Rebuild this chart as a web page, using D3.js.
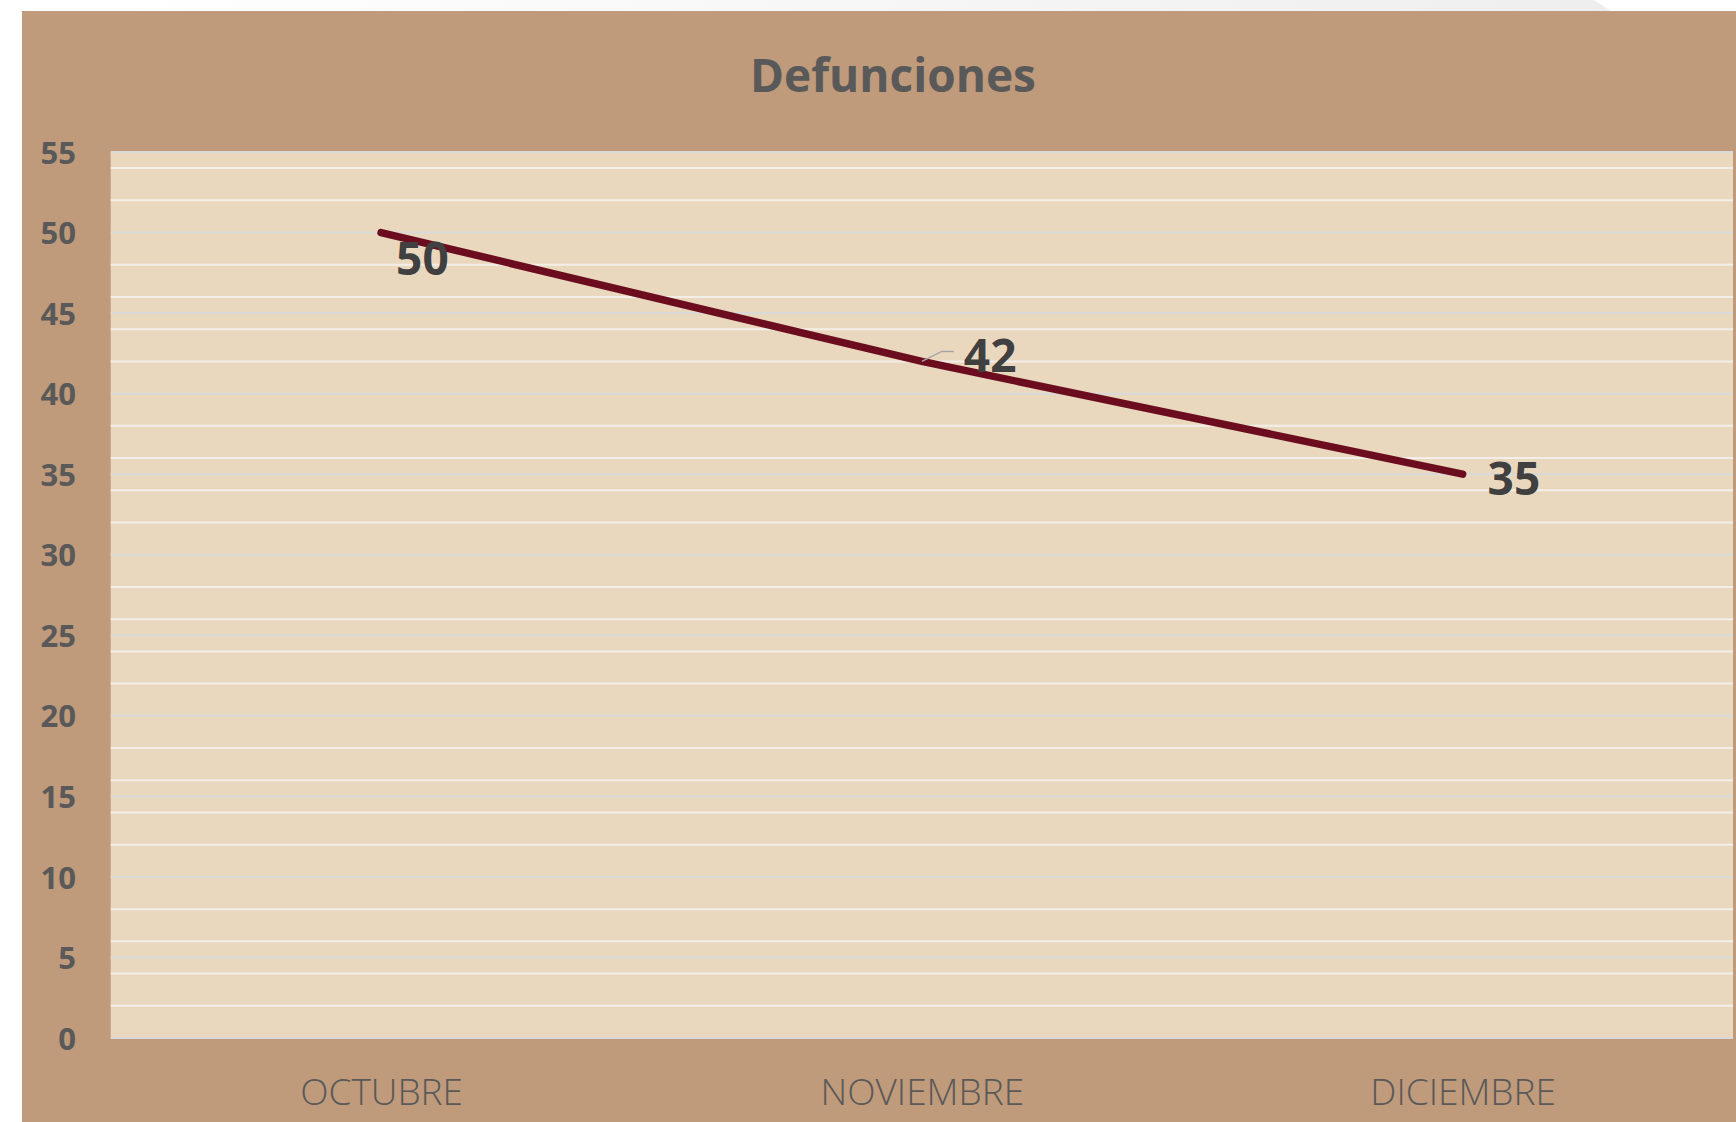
<!DOCTYPE html>
<html>
<head>
<meta charset="utf-8">
<script src="https://cdn.jsdelivr.net/npm/d3@7"></script>
<style>
  html, body { margin: 0; padding: 0; background: #ffffff; }
  svg { display: block; }
</style>
</head>
<body>
<div id="grafico"></div>
<script>
//----------------------------------------------------------------
// Datos
//----------------------------------------------------------------
var titulo = "Defunciones";
var meses = ["OCTUBRE", "NOVIEMBRE", "DICIEMBRE"];
var defunciones = [50, 42, 35];
var ticksY = [0, 5, 10, 15, 20, 25, 30, 35, 40, 45, 50, 55];
var ticksMenores = d3.range(0, 55, 2);

//----------------------------------------------------------------
// Dimensiones
//----------------------------------------------------------------
var largeurSvg = 1736, hauteurSvg = 1122;
var cadre = {x: 22, y: 11};
var zone = {gauche: 110.7, droite: 1733, haut: 152, bas: 1038};

// couleurs
var c = {fond: "#bf9a7b", zone: "#ead8be", grille: "#d9d9d9", mineure: "#f3eee8",
         ligne: "#6b0d1e", texte: "#595959", etiquette: "#404040"};

var svg = d3.select("#grafico")
    .append("svg")
    .attr("width", largeurSvg)
    .attr("height", hauteurSvg);

// bande grise en haut
var defs = svg.append("defs");
var grad = defs.append("linearGradient").attr("id", "haut");
grad.append("stop").attr("offset", "0%").attr("stop-color", "#ffffff");
grad.append("stop").attr("offset", "100%").attr("stop-color", "#eeeeee");
svg.append("path")
    .attr("d", "M110,0 L1594,0 L1611,11 L110,11 Z")
    .attr("fill", "url(#haut)");

// fond du graphique
svg.append("rect")
    .attr("x", cadre.x).attr("y", cadre.y)
    .attr("width", largeurSvg - cadre.x).attr("height", hauteurSvg - cadre.y)
    .attr("fill", c.fond);

svg.append("rect")
    .attr("x", zone.gauche).attr("y", zone.haut)
    .attr("width", zone.droite - zone.gauche).attr("height", zone.bas - zone.haut)
    .attr("fill", c.zone);

//----------------------------------------------------------------
// Echelles
//----------------------------------------------------------------
var x = d3.scalePoint()
    .domain(meses)
    .range([zone.gauche, zone.droite])
    .padding(0.5);

var y = d3.scaleLinear()
    .domain([0, 55])
    .range([zone.bas, zone.haut]);

// grille mineure
svg.append("g")
    .selectAll("line")
    .data(ticksMenores.filter(function(d) { return d % 5 !== 0; }))
    .enter().append("line")
        .attr("x1", zone.gauche).attr("x2", zone.droite)
        .attr("y1", function(d) { return y(d); })
        .attr("y2", function(d) { return y(d); })
        .attr("stroke", c.mineure)
        .attr("stroke-width", 2);

// grille principale
svg.append("g")
    .selectAll("line")
    .data(ticksY)
    .enter().append("line")
        .attr("x1", zone.gauche).attr("x2", zone.droite)
        .attr("y1", function(d) { return y(d); })
        .attr("y2", function(d) { return y(d); })
        .attr("stroke", c.grille)
        .attr("stroke-width", 2);

// axe Y
var axeY = svg.append("g")
    .attr("transform", "translate(76,0)")
    .call(d3.axisLeft(y).tickValues(ticksY).tickSize(0).tickPadding(0));
axeY.select(".domain").remove();
axeY.selectAll("text")
    .attr("font-family", "'Open Sans', 'Noto Sans', sans-serif")
    .attr("font-weight", "bold")
    .attr("font-size", 31)
    .attr("fill", c.texte)
    .attr("dy", "0.36em");

// axe X
var axeX = svg.append("g")
    .attr("transform", "translate(0," + zone.bas + ")")
    .call(d3.axisBottom(x).tickSize(0).tickPadding(0));
axeX.select(".domain").remove();
axeX.selectAll("text")
    .attr("font-family", "'Open Sans', 'Noto Sans', sans-serif")
    .attr("font-weight", 300)
    .attr("font-size", 37)
    .attr("fill", c.texte)
    .attr("dy", 0)
    .attr("y", 67);

//----------------------------------------------------------------
// Ligne
//----------------------------------------------------------------
var ligne = d3.line()
    .x(function(d, i) { return x(meses[i]); })
    .y(function(d) { return y(d); });

svg.append("path")
    .datum(defunciones)
    .attr("d", ligne)
    .attr("fill", "none")
    .attr("stroke", c.ligne)
    .attr("stroke-width", 7.5)
    .attr("stroke-linecap", "round")
    .attr("stroke-linejoin", "round");

// étiquettes (décalage par rapport au point)
var decalages = [[15, 42.5], [42, 11], [25, 20.5]];

// ligne de rappel pour NOVIEMBRE
svg.append("polyline")
    .attr("points", function() {
        var px = x(meses[1]), py = y(defunciones[1]);
        return [[px, py], [px + 20, py - 10], [px + 32, py - 10]].join(" ");
    })
    .attr("fill", "none")
    .attr("stroke", "#a6a6a6")
    .attr("stroke-width", 1.5);

svg.append("g")
    .selectAll("text")
    .data(defunciones)
    .enter().append("text")
        .attr("x", function(d, i) { return x(meses[i]) + decalages[i][0]; })
        .attr("y", function(d, i) { return y(d) + decalages[i][1]; })
        .attr("font-family", "'Open Sans', 'Noto Sans', sans-serif")
        .attr("font-weight", "bold")
        .attr("font-size", 46)
        .attr("fill", c.etiquette)
        .text(function(d) { return d; });

// titre
svg.append("text")
    .attr("x", 893).attr("y", 92)
    .attr("text-anchor", "middle")
    .attr("font-family", "'Open Sans', 'Noto Sans', sans-serif")
    .attr("font-weight", "bold")
    .attr("font-size", 46)
    .attr("fill", c.texte)
    .text(titulo);
</script>
</body>
</html>
